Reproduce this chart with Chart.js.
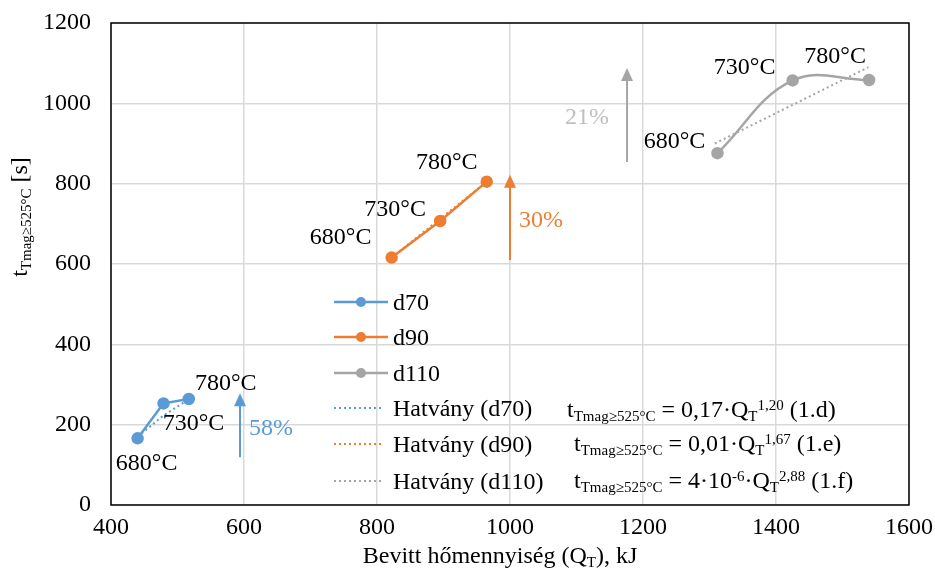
<!DOCTYPE html>
<html lang="hu">
<head>
<meta charset="UTF-8">
<title>t Tmag vs Q_T</title>
<script src="https://cdn.jsdelivr.net/npm/chart.js"></script>
<style>
    body { margin: 0; background: #fff; }
    #wrap { width: 935px; height: 580px; }
</style>
</head>
<body>
<div id="wrap"><canvas id="chart"></canvas></div>
<script>
    // measured series (Q_T in kJ, time in s)
    const seriesNames = ['d70', 'd90', 'd110'];
    const d70Q = [440, 479, 517];
    const d70T = [166, 253, 264];
    const d90Q = [822, 895, 965];
    const d90T = [616, 707, 805];
    const d110Q = [1312, 1425, 1540];
    const d110T = [876, 1057, 1058];
    const tempLabels = ['680°C', '730°C', '780°C'];

    // power trend lines
    const trend70Q = [446, 479, 512];
    const trend70T = [178, 223, 258];
    const trend90Q = [822, 965];
    const trend90T = [616, 805];
    const trend110Q = [1308, 1539];
    const trend110T = [900, 1090];
    const trendNames = ['Hatvány (d70)', 'Hatvány (d90)', 'Hatvány (d110)'];

    // increase arrows
    const arrowQ = [594, 1000, 1176];
    const arrowFrom = [119, 610, 854];
    const arrowTo = [278, 822, 1088];
    const arrowText = ['58%', '30%', '21%'];

    // equation pieces
    const eqCoef = ['0,17', '0,01', '4·10'];
    const eqCoefSup = ['', '', '-6'];
    const eqExp = ['1,20', '1,67', '2,88'];
    const eqTag = ['(1.d)', '(1.e)', '(1.f)'];

    const xTicks = [400, 600, 800, 1000, 1200, 1400, 1600];
    const yTicks = [0, 200, 400, 600, 800, 1000, 1200];

    const colors = ['#5b9bd5', '#ed7d31', '#a5a5a5'];
    const serif = "'Liberation Serif', 'Times New Roman', serif";

    const pts = (xs, ys) => xs.map((x, i) => ({ x: x, y: ys[i] }));

    function richText(ctx, x, y, parts, draw) {
        let cx = x;
        parts.forEach(p => {
            const size = p.s ? 15 : 24;
            const dy = p.s === 'sub' ? 4 : p.s === 'sup' ? -7 : 0;
            ctx.font = size + 'px ' + serif;
            if (draw) ctx.fillText(p.t, cx, y + dy);
            cx += ctx.measureText(p.t).width;
        });
        return cx - x;
    }

    function arrow(ctx, x, y1, y2, color) {
        ctx.save();
        ctx.strokeStyle = color;
        ctx.fillStyle = color;
        ctx.lineWidth = 2;
        ctx.beginPath();
        ctx.moveTo(x, y1);
        ctx.lineTo(x, y2 + 10);
        ctx.stroke();
        ctx.beginPath();
        ctx.moveTo(x, y2);
        ctx.lineTo(x - 6, y2 + 13);
        ctx.lineTo(x + 6, y2 + 13);
        ctx.closePath();
        ctx.fill();
        ctx.restore();
    }

    const labelOffsets = [
        [[9, 25], [30, 20], [37, -15]],
        [[-51, -20], [-45, -11], [-40, -19]],
        [[-43, -11], [-48, -13], [-34, -23]]
    ];

    const decor = {
        id: 'decor',
        afterDraw(chart) {
            const ctx = chart.ctx;
            const a = chart.chartArea;
            const xs = chart.scales.x, ys = chart.scales.y;
            ctx.save();

            // plot frame
            ctx.strokeStyle = '#000';
            ctx.lineWidth = 1.5;
            ctx.strokeRect(a.left, a.top, a.right - a.left, a.bottom - a.top);

            // temperature labels next to each point
            ctx.fillStyle = '#000';
            ctx.font = '24px ' + serif;
            ctx.textAlign = 'center';
            ctx.textBaseline = 'middle';
            [0, 1, 2].forEach(s => {
                const meta = chart.getDatasetMeta(s);
                meta.data.forEach((el, i) => {
                    const o = labelOffsets[s][i];
                    ctx.fillText(tempLabels[i], el.x + o[0], el.y + o[1]);
                });
            });

            // arrows and percentages
            arrowQ.forEach((q, i) => {
                const x = xs.getPixelForValue(q);
                const y1 = ys.getPixelForValue(arrowFrom[i]);
                const y2 = ys.getPixelForValue(arrowTo[i]);
                arrow(ctx, x, y1, y2, colors[i]);
                ctx.fillStyle = i === 2 ? '#bfbfbf' : colors[i];
                ctx.fillText(arrowText[i], x + (i === 2 ? -40 : 31), (y1 + y2) / 2 + 3);
            });

            // legend
            ctx.textAlign = 'left';
            ctx.textBaseline = 'alphabetic';
            const rows = [302, 337, 373, 408, 444, 481];
            rows.forEach((ry, i) => {
                const c = colors[i % 3];
                ctx.strokeStyle = c;
                if (i < 3) {
                    ctx.lineWidth = 2.5;
                    ctx.setLineDash([]);
                    ctx.beginPath(); ctx.moveTo(334, ry); ctx.lineTo(388, ry); ctx.stroke();
                    ctx.fillStyle = c;
                    ctx.beginPath(); ctx.arc(361, ry, 5, 0, Math.PI * 2); ctx.fill();
                } else {
                    ctx.lineWidth = 2;
                    ctx.setLineDash([2, 3]);
                    ctx.beginPath(); ctx.moveTo(334, ry); ctx.lineTo(384, ry); ctx.stroke();
                    ctx.setLineDash([]);
                }
                ctx.fillStyle = '#000';
                ctx.font = '24px ' + serif;
                ctx.fillText(i < 3 ? seriesNames[i] : trendNames[i - 3], 393, ry + 8);
            });

            // fitted equations
            const eqX = [567, 574, 574];
            const eqY = [417, 451, 488];
            eqCoef.forEach((c, i) => {
                const parts = [
                    { t: 't' }, { t: 'Tmag≥525°C', s: 'sub' }, { t: ' = ' + c }
                ];
                if (eqCoefSup[i]) parts.push({ t: eqCoefSup[i], s: 'sup' });
                parts.push({ t: '·Q' }, { t: 'T', s: 'sub' }, { t: eqExp[i], s: 'sup' }, { t: ' ' + eqTag[i] });
                richText(ctx, eqX[i], eqY[i], parts, true);
            });

            // axis titles
            const xt = [{ t: 'Bevitt hőmennyiség (Q' }, { t: 'T', s: 'sub' }, { t: '), kJ' }];
            const xw = richText(ctx, 0, 0, xt, false);
            richText(ctx, 500 - xw / 2, 563, xt, true);

            const yt = [{ t: 't' }, { t: 'Tmag≥525°C', s: 'sub' }, { t: ' [s]' }];
            const yw = richText(ctx, 0, 0, yt, false);
            ctx.translate(27, 217 + yw / 2);
            ctx.rotate(-Math.PI / 2);
            richText(ctx, 0, 0, yt, true);

            ctx.restore();
        }
    };

    const tickFont = { family: serif, size: 24 };

    new Chart(document.getElementById('chart'), {
        type: 'line',
        data: {
            datasets: [
                { label: seriesNames[0], data: pts(d70Q, d70T), borderColor: colors[0], backgroundColor: colors[0], borderWidth: 2.5, pointRadius: 5, tension: 0 },
                { label: seriesNames[1], data: pts(d90Q, d90T), borderColor: colors[1], backgroundColor: colors[1], borderWidth: 2.5, pointRadius: 5, tension: 0 },
                { label: seriesNames[2], data: pts(d110Q, d110T), borderColor: colors[2], backgroundColor: colors[2], borderWidth: 2.5, pointRadius: 5, tension: 0.4 },
                { label: trendNames[0], data: pts(trend70Q, trend70T), borderColor: colors[0], borderWidth: 2, borderDash: [2, 3], pointRadius: 0 },
                { label: trendNames[1], data: pts(trend90Q, trend90T), borderColor: colors[1], borderWidth: 2, borderDash: [2, 3], pointRadius: 0 },
                { label: trendNames[2], data: pts(trend110Q, trend110T), borderColor: colors[2], borderWidth: 2, borderDash: [2, 3], pointRadius: 0 }
            ]
        },
        options: {
            responsive: true,
            maintainAspectRatio: false,
            animation: false,
            layout: { padding: { top: 23, right: 26, left: 0, bottom: 0 } },
            plugins: { legend: { display: false }, tooltip: { enabled: false } },
            scales: {
                x: {
                    type: 'linear', min: xTicks[0], max: xTicks[xTicks.length - 1],
                    afterBuildTicks: s => { s.ticks = xTicks.map(v => ({ value: v })); },
                    afterFit: s => { s.height = 75; s.paddingLeft = 0; s.paddingRight = 0; },
                    ticks: { font: tickFont, color: '#000', padding: 8, callback: v => String(v) },
                    grid: { color: '#d9d9d9', lineWidth: 1.5, drawTicks: false },
                    border: { display: false }
                },
                y: {
                    type: 'linear', min: yTicks[0], max: yTicks[yTicks.length - 1],
                    afterBuildTicks: s => { s.ticks = yTicks.map(v => ({ value: v })); },
                    afterFit: s => { s.width = 111; s.paddingTop = 0; s.paddingBottom = 0; },
                    ticks: { font: tickFont, color: '#000', padding: 20, callback: v => String(v) },
                    grid: { color: '#d9d9d9', lineWidth: 1.5, drawTicks: false },
                    border: { display: false }
                }
            }
        },
        plugins: [decor]
    });
</script>
</body>
</html>
